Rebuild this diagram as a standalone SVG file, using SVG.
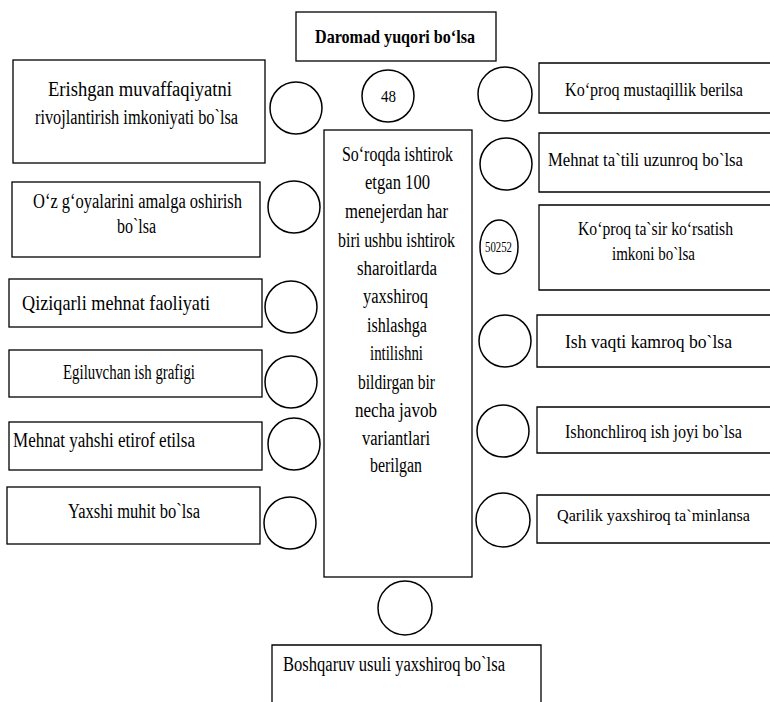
<svg xmlns="http://www.w3.org/2000/svg" width="770" height="702" viewBox="0 0 770 702">
  <style>
    .box { fill: #fff; stroke: #000; stroke-width: 1.3; }
    .ring { fill: #fff; stroke: #000; stroke-width: 1.5; }
    .t { font-family: 'Liberation Serif', 'DejaVu Serif', 'Times New Roman', serif; font-size: 20px; fill: #000; }
    .r { font-size: 18px; }
    .rs { font-size: 17px; }
    .big { font-size: 22px; }
    .b { font-weight: bold; font-size: 19px; }
    .n { font-size: 16px; }
    .s { font-size: 15px; }
  </style>
  <rect width="770" height="702" fill="#fff"/>

  <!-- no connectors: options sit around the central question box -->
  <g id="connectors"/>

  <g font-family="Liberation Serif, DejaVu Serif, serif">
  <!-- heading option -->
  <g id="top-option">
    <rect class="box" x="296" y="12" width="200" height="49"/>
    <text class="t b" x="315" y="43" textLength="160" lengthAdjust="spacingAndGlyphs">Daromad yuqori bo‘lsa</text>
  </g>
  <g id="top-count">
    <circle class="ring" cx="388" cy="96" r="26"/>
    <text class="t n" x="381" y="102" textLength="15" lengthAdjust="spacingAndGlyphs">48</text>
  </g>

  <!-- central question box -->
  <g id="question">
    <rect class="box" x="324" y="130" width="148" height="447"/>
    <text class="t" x="342" y="161" textLength="111" lengthAdjust="spacingAndGlyphs">So‘roqda ishtirok</text>
    <text class="t" x="365" y="189" textLength="65" lengthAdjust="spacingAndGlyphs">etgan 100</text>
    <text class="t" x="345" y="218" textLength="103" lengthAdjust="spacingAndGlyphs">menejerdan har</text>
    <text class="t" x="338" y="247" textLength="117" lengthAdjust="spacingAndGlyphs">biri ushbu ishtirok</text>
    <text class="t" x="357" y="275" textLength="80" lengthAdjust="spacingAndGlyphs">sharoitlarda</text>
    <text class="t" x="363" y="303" textLength="65" lengthAdjust="spacingAndGlyphs">yaxshiroq</text>
    <text class="t" x="367" y="332" textLength="60" lengthAdjust="spacingAndGlyphs">ishlashga</text>
    <text class="t" x="370" y="360" textLength="53" lengthAdjust="spacingAndGlyphs">intilishni</text>
    <text class="t" x="358" y="389" textLength="77" lengthAdjust="spacingAndGlyphs">bildirgan bir</text>
    <text class="t" x="355" y="417" textLength="82" lengthAdjust="spacingAndGlyphs">necha javob</text>
    <text class="t" x="362" y="445" textLength="68" lengthAdjust="spacingAndGlyphs">variantlari</text>
    <text class="t" x="370" y="472" textLength="52" lengthAdjust="spacingAndGlyphs">berilgan</text>
  </g>

  <!-- bottom option -->
  <g id="bottom-count">
    <circle class="ring" cx="405" cy="608" r="27"/>
  </g>
  <g id="bottom-option">
    <path class="box" d="M272 703 V645 H541 V703"/>
    <text class="t" x="283" y="671" textLength="222" lengthAdjust="spacingAndGlyphs">Boshqaruv usuli yaxshiroq bo`lsa</text>
  </g>

  <!-- left column -->
  <g id="left-1">
    <rect class="box" x="13" y="60" width="252" height="103"/>
    <text class="t" x="48" y="96" textLength="184" lengthAdjust="spacingAndGlyphs">Erishgan muvaffaqiyatni</text>
    <text class="t" x="35" y="124" textLength="203" lengthAdjust="spacingAndGlyphs">rivojlantirish imkoniyati bo`lsa</text>
    <circle class="ring" cx="296" cy="108" r="26"/>
  </g>
  <g id="left-2">
    <rect class="box" x="12" y="182" width="248" height="75"/>
    <text class="t" x="33" y="208" textLength="209" lengthAdjust="spacingAndGlyphs">O‘z g‘oyalarini amalga oshirish</text>
    <text class="t" x="117" y="233" textLength="39" lengthAdjust="spacingAndGlyphs">bo`lsa</text>
    <circle class="ring" cx="294" cy="207" r="26"/>
  </g>
  <g id="left-3">
    <rect class="box" x="9" y="279" width="253" height="48"/>
    <text class="t big" x="22" y="310" textLength="188" lengthAdjust="spacingAndGlyphs">Qiziqarli mehnat faoliyati</text>
    <circle class="ring" cx="291" cy="307" r="26"/>
  </g>
  <g id="left-4">
    <rect class="box" x="9" y="350" width="253" height="47"/>
    <text class="t" x="63" y="379" textLength="132" lengthAdjust="spacingAndGlyphs">Egiluvchan ish grafigi</text>
    <circle class="ring" cx="291" cy="382" r="26"/>
  </g>
  <g id="left-5">
    <rect class="box" x="9" y="422" width="253" height="48"/>
    <text class="t" x="13" y="447" textLength="182" lengthAdjust="spacingAndGlyphs">Mehnat yahshi etirof etilsa</text>
    <circle class="ring" cx="294" cy="444" r="26"/>
  </g>
  <g id="left-6">
    <rect class="box" x="7" y="487" width="253" height="57"/>
    <text class="t" x="68" y="518" textLength="132" lengthAdjust="spacingAndGlyphs">Yaxshi muhit bo`lsa</text>
    <circle class="ring" cx="290" cy="523" r="26"/>
  </g>

  <!-- right column: boxes run on past the right edge, so no right side is drawn -->
  <g id="right-1">
    <circle class="ring" cx="505" cy="94" r="27"/>
    <path class="box" d="M771 63 H539 V113 H771"/>
    <text class="t r" x="565" y="96" textLength="178" lengthAdjust="spacingAndGlyphs">Ko‘proq mustaqillik berilsa</text>
  </g>
  <g id="right-2">
    <circle class="ring" cx="506" cy="164" r="26"/>
    <path class="box" d="M771 133 H539 V192 H771"/>
    <text class="t r" x="548" y="166" textLength="195" lengthAdjust="spacingAndGlyphs">Mehnat ta`tili uzunroq bo`lsa</text>
  </g>
  <g id="right-3">
    <ellipse class="ring" cx="499" cy="247" rx="19" ry="27"/>
    <text class="t s" x="485" y="252" textLength="27" lengthAdjust="spacingAndGlyphs">50252</text>
    <path class="box" d="M771 205 H539 V290 H771"/>
    <text class="t r" x="578" y="235" textLength="155" lengthAdjust="spacingAndGlyphs">Ko‘proq ta`sir ko‘rsatish</text>
    <text class="t r" x="612" y="260" textLength="83" lengthAdjust="spacingAndGlyphs">imkoni bo`lsa</text>
  </g>
  <g id="right-4">
    <circle class="ring" cx="505" cy="341" r="26"/>
    <path class="box" d="M771 315 H537 V367 H771"/>
    <text class="t r" x="565" y="348" textLength="167" lengthAdjust="spacingAndGlyphs">Ish vaqti kamroq bo`lsa</text>
  </g>
  <g id="right-5">
    <circle class="ring" cx="503" cy="431" r="26"/>
    <path class="box" d="M771 407 H537 V453 H771"/>
    <text class="t r" x="565" y="438" textLength="177" lengthAdjust="spacingAndGlyphs">Ishonchliroq ish joyi bo`lsa</text>
  </g>
  <g id="right-6">
    <circle class="ring" cx="503" cy="520" r="27"/>
    <path class="box" d="M771 495 H537 V543 H771"/>
    <text class="t rs" x="557" y="521" textLength="193" lengthAdjust="spacingAndGlyphs">Qarilik yaxshiroq ta`minlansa</text>
  </g>
  </g>
</svg>
